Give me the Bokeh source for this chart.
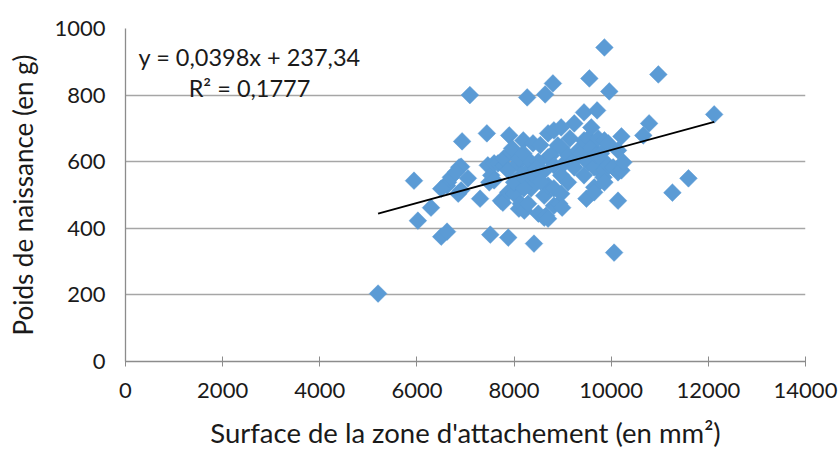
import numpy as np
from bokeh.plotting import figure
from bokeh.models import ColumnDataSource, FixedTicker, Range1d
from bokeh.embed import file_html
from bokeh.resources import INLINE
from bokeh.core.properties import value

surface = [5200, 5940, 6020, 6290, 6500, 6620, 6640, 6620, 6700, 6500, 6850, 6910, 6910, 6870, 6800,
           7050, 6930, 7090, 7300, 7440, 7460, 7490, 7510, 7530, 7590, 7590, 7670, 7730, 7770, 7790,
           7790, 7880, 7880, 7880, 7900, 7940, 7960, 8000, 8000, 8080, 8100, 8100, 8140, 8190, 8190,
           8210, 8270, 8290, 8290, 8290, 8350, 8350, 8390, 8410, 8500, 8540, 8620, 8620, 8640, 8660,
           8800, 8700, 8700, 8700, 8700, 8760, 8820, 8820, 8820, 8820, 8900, 8930, 8970, 8970, 8970,
           8970, 8990, 9030, 9150, 9110, 9110, 9240, 9240, 9240, 9320, 9380, 9440, 9440, 9440, 9440,
           9490, 9530, 9530, 9550, 9590, 9590, 9650, 9650, 9650, 9690, 9710, 9730, 9790, 9790, 9790,
           9840, 9860, 9860, 9860, 9860, 9940, 9940, 9960, 10040, 10060, 10140, 10140, 10140, 10210,
           10210, 10250, 10660, 10780, 10970, 11260, 11590, 12120,
           8400, 8600, 8200, 8500, 8450, 8550, 8150]
poids = [204, 543, 423, 462, 375, 390, 538, 528, 553, 519, 504, 514, 585, 583, 568,
         550, 661, 800, 489, 685, 589, 538, 381, 559, 544, 595, 595, 483, 477, 589,
         610, 372, 574, 508, 679, 628, 640, 504, 538, 595, 610, 459, 474, 664, 625,
         453, 793, 574, 474, 550, 598, 520, 655, 354, 444, 650, 432, 498, 802, 438,
         835, 528, 685, 613, 429, 619, 694, 589, 520, 468, 649, 474, 504, 703, 643,
         559, 462, 595, 670, 619, 538, 715, 604, 583, 634, 625, 748, 664, 610, 559,
         489, 598, 670, 850, 703, 643, 583, 523, 508, 619, 754, 670, 625, 610, 568,
         553, 943, 664, 574, 538, 655, 589, 811, 583, 327, 483, 634, 568, 676,
         574, 598, 679, 715, 862, 507, 550, 742,
         560, 570, 520, 600, 580, 540, 560]

slope = 0.0398
intercept = 237.34
eq_text = ["y = 0,0398x + 237,34", "R² = 0,1777"]
eq_x = [270, 1300]
eq_y = [913, 820]

x_ticks = [0, 2000, 4000, 6000, 8000, 10000, 12000, 14000]
y_ticks = [0, 200, 400, 600, 800, 1000]

FONT = "Lato"
TXT = "#1a1a1a"

p = figure(width=840, height=451, output_backend="svg", toolbar_location=None,
           x_range=Range1d(0, 14000), y_range=Range1d(0, 1000))
p.frame_width = 680
p.frame_height = 333
p.min_border_left = 125
p.min_border_top = 28
p.min_border_right = 35
p.min_border_bottom = 90
p.outline_line_color = None

p.xgrid.grid_line_color = None
p.ygrid.grid_line_color = "#a6a6a6"
p.ygrid.grid_line_width = 1.3
p.yaxis.ticker = FixedTicker(ticks=y_ticks)
p.xaxis.ticker = FixedTicker(ticks=x_ticks)
p.xaxis.minor_tick_line_color = None
p.yaxis.minor_tick_line_color = None

for ax in (p.xaxis, p.yaxis):
    ax.axis_line_color = "#8c8c8c"
    ax.axis_line_width = 1.3
    ax.major_label_text_font = FONT
    ax.major_label_text_font_size = "22px"
    ax.major_label_text_color = TXT
    ax.axis_label_text_font = FONT
    ax.axis_label_text_font_style = "normal"
    ax.axis_label_text_color = TXT

p.xaxis.axis_label_text_font_size = "27.5px"
p.yaxis.axis_label_text_font_size = "26px"

p.xaxis.major_tick_line_color = "#8c8c8c"
p.xaxis.major_tick_in = 5
p.xaxis.major_tick_out = 5
p.xaxis.major_label_standoff = 16
p.xaxis.axis_label_standoff = 15
p.yaxis.major_tick_line_color = None
p.yaxis.major_tick_in = 0
p.yaxis.major_tick_out = 0
p.yaxis.major_label_standoff = 20
p.yaxis.axis_label_standoff = 12

p.xaxis.axis_label = "Surface de la zone d'attachement (en mm²)"
p.yaxis.axis_label = "Poids de naissance (en g)"

src = ColumnDataSource(dict(x=surface, y=poids))
p.scatter("x", "y", source=src, marker="square", size=12.5, angle=np.pi / 4,
          fill_color="#5b9bd5", line_color="#5b9bd5", line_width=0.5)

xmin, xmax = min(surface), max(surface)
p.line([xmin, xmax], [slope * xmin + intercept, slope * xmax + intercept],
       line_color="black", line_width=1.8)

p.text(x=eq_x, y=eq_y, text=eq_text, text_font=value(FONT), text_font_size="23.5px",
       text_color=TXT, text_baseline="middle", text_align="left")

open("out.html", "w").write(file_html(p, INLINE))
